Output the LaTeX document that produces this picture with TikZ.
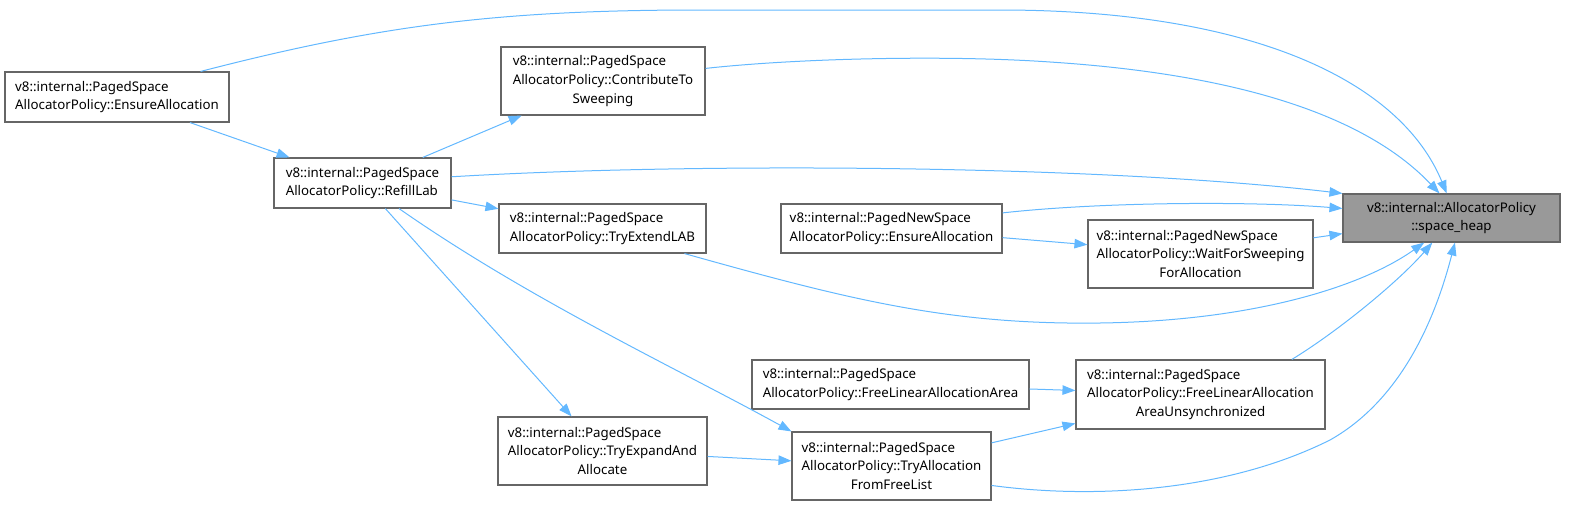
\documentclass[tikz,border=0pt]{standalone}
\usepackage{fontspec}
\setmainfont{Noto Sans}
\usetikzlibrary{arrows.meta}
\definecolor{CGEdge}{HTML}{63B8FF}
\definecolor{CGBorder}{HTML}{666666}
\definecolor{CGTarget}{HTML}{999999}
\newcommand{\midline}[1]{\hspace*{\fill}#1\hspace*{\fill}}

\begin{document}
\begin{tikzpicture}[x=1pt,y=-1pt,
  fn/.style={draw=CGBorder,line width=1.1pt,fill=white,inner sep=0pt,align=left,
    font=\fontsize{13.3}{18.7}\selectfont},
  call/.style={CGEdge,line width=1pt,-{Triangle[length=13pt,width=9.5pt]}}]
\path[use as bounding box] (0,0) rectangle (1569,506);
\node[fn,minimum width=224pt,minimum height=50pt] (ens) at (117,97) {v8::internal::PagedSpace\\AllocatorPolicy::EnsureAllocation};
\node[fn,minimum width=204pt,minimum height=68pt] (cts) at (603,81) {v8::internal::PagedSpace\\AllocatorPolicy::ContributeTo\\\midline{Sweeping}};
\node[fn,minimum width=177pt,minimum height=50pt] (refill) at (362.5,183) {v8::internal::PagedSpace\\AllocatorPolicy::RefillLab};
\node[fn,minimum width=207pt,minimum height=49pt] (tel) at (602.5,228.5) {v8::internal::PagedSpace\\AllocatorPolicy::TryExtendLAB};
\node[fn,minimum width=221pt,minimum height=49pt] (pnsens) at (891.5,228.5) {v8::internal::PagedNewSpace\\AllocatorPolicy::EnsureAllocation};
\node[fn,minimum width=225pt,minimum height=68pt] (wfs) at (1200.5,254) {v8::internal::PagedNewSpace\\AllocatorPolicy::WaitForSweeping\\\midline{ForAllocation}};
\node[fn,fill=CGTarget,align=center,minimum width=217pt,minimum height=48pt] (heap) at (1451.5,218) {v8::internal::AllocatorPolicy\\::space\_heap};
\node[fn,minimum width=277pt,minimum height=49pt] (fla) at (890.5,384.5) {v8::internal::PagedSpace\\AllocatorPolicy::FreeLinearAllocationArea};
\node[fn,minimum width=249pt,minimum height=69pt] (flau) at (1200.5,394.5) {v8::internal::PagedSpace\\AllocatorPolicy::FreeLinearAllocation\\\midline{AreaUnsynchronized}};
\node[fn,minimum width=209pt,minimum height=68pt] (tea) at (602.5,451) {v8::internal::PagedSpace\\AllocatorPolicy::TryExpandAnd\\\midline{Allocate}};
\node[fn,minimum width=199pt,minimum height=68pt] (taffl) at (891.5,466) {v8::internal::PagedSpace\\AllocatorPolicy::TryAllocation\\\midline{FromFreeList}};
\draw[call] (ens.17) .. controls (380,25) and (500,10) .. (700,10) -- (1000,10) .. controls (1250,10) and (1400,80) .. (heap.101);
\draw[call] (cts.7) .. controls (800,58) and (950,55) .. (1050,62) .. controls (1250,75) and (1370,120) .. (heap.116);
\draw[call] (refill.4) .. controls (700,162) and (1100,165) .. (heap.north west);
\draw[call] (pnsens.8) .. controls (1100,202) and (1250,201) .. (heap.175);
\draw[call] (wfs) -- (heap);
\draw[call] (tel.-17) .. controls (850,300) and (950,325) .. (1100,323) .. controls (1250,321) and (1360,288) .. (heap.-138);
\draw[call] (flau.21) .. controls (1340,330) and (1400,280) .. (heap.-128);
\draw[call] (taffl.-11) .. controls (1100,500) and (1230,490) .. (1330,440) .. controls (1410,395) and (1440,300) .. (heap.-82);
\draw[call] (ens) -- (refill);
\draw[call] (refill) -- (cts);
\draw[call] (refill) -- (tel);
\draw[call] (refill) -- (tea);
\draw[call] (refill.-35) .. controls (530,300) and (680,370) .. (taffl.north west);
\draw[call] (pnsens) -- (wfs);
\draw[call] (fla) -- (flau);
\draw[call] (taffl) -- (flau);
\draw[call] (tea) -- (taffl);
\end{tikzpicture}
\end{document}
